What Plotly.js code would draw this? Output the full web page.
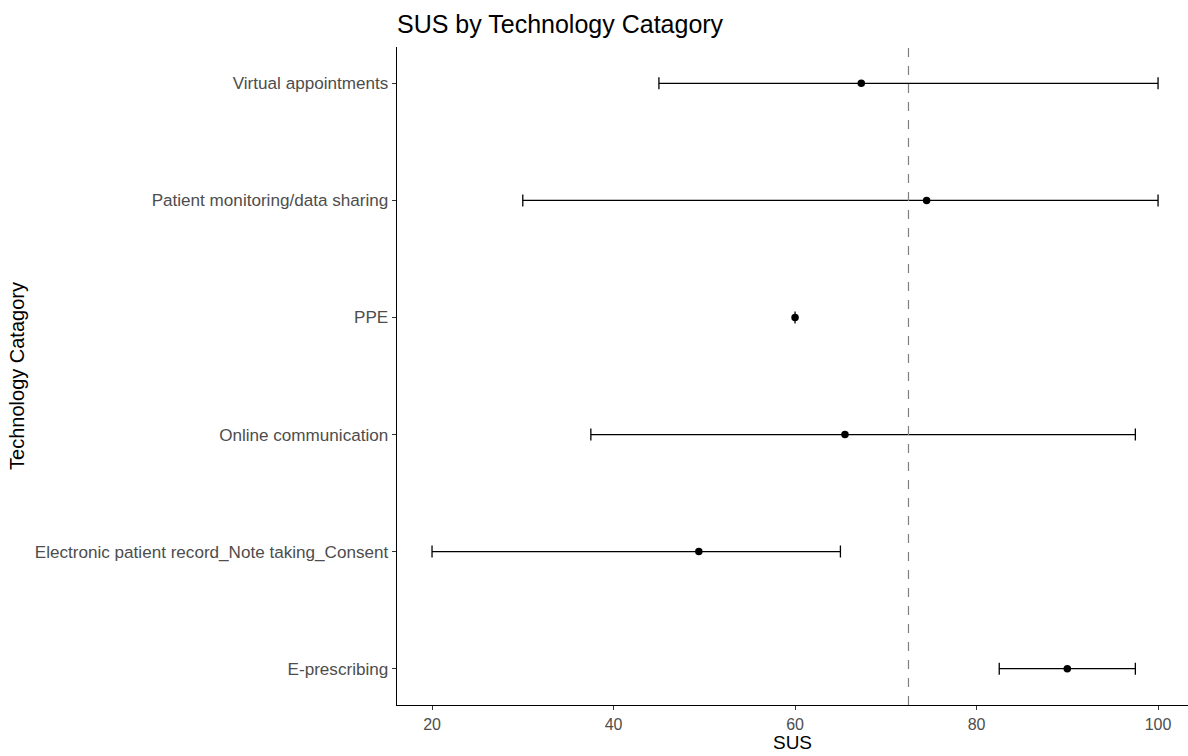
<!DOCTYPE html>
<html>
<head>
<meta charset="utf-8">
<script src="https://cdn.plot.ly/plotly-3.0.1.min.js"></script>
<style>html,body{margin:0;padding:0;background:#fff;}#chart{width:1188px;height:756px;}</style>
</head>
<body>
<div id="chart"></div>
<script>
const categories = ["E-prescribing", "Electronic patient record_Note taking_Consent", "Online communication", "PPE", "Patient monitoring/data sharing", "Virtual appointments"];
const meanSUS = [90, 49.4, 65.5, 60, 74.5, 67.3];
const lowerSUS = [82.5, 20, 37.5, 60, 30, 45];
const upperSUS = [97.5, 65, 97.5, 60, 100, 100];
const referenceSUS = 72.5;
const xTicks = [20, 40, 60, 80, 100];

const trace = {
  type: "scatter",
  mode: "markers",
  x: meanSUS,
  y: categories,
  marker: {color: "#000", size: 7.5},
  error_x: {
    type: "data",
    symmetric: false,
    array: upperSUS.map((u, i) => u - meanSUS[i]),
    arrayminus: meanSUS.map((m, i) => m - lowerSUS[i]),
    color: "#000",
    thickness: 1.3,
    width: 6
  },
  hoverinfo: "x+y",
  showlegend: false
};

const layout = {
  width: 1188,
  height: 756,
  margin: {l: 397, r: 0, t: 47, b: 51},
  paper_bgcolor: "#fff",
  plot_bgcolor: "#fff",
  font: {family: "Liberation Sans, Arial, sans-serif", color: "#000"},
  title: {
    text: "SUS by Technology Catagory",
    font: {size: 25, color: "#000"},
    x: 0, xanchor: "left", xref: "paper",
    y: 1 - 24 / 756, yref: "container", yanchor: "middle"
  },
  xaxis: {
    range: [16.14, 103.3],
    tickvals: xTicks,
    ticktext: xTicks.map(String),
    ticks: "outside", ticklen: 4, tickwidth: 1, tickcolor: "#333",
    tickfont: {size: 16, color: "#4D4D4D"},
    showgrid: false, zeroline: false,
    showline: true, linecolor: "#000", linewidth: 1.3,
    title: {text: "SUS", font: {size: 19, color: "#000"}, standoff: 2}
  },
  yaxis: {
    type: "category",
    categoryorder: "array",
    categoryarray: categories,
    range: [-0.31, 5.31],
    ticks: "outside", ticklen: 4, tickwidth: 1, tickcolor: "#333",
    tickfont: {size: 17.1, color: "#4D4D4D"},
    showgrid: false, zeroline: false,
    showline: true, linecolor: "#000", linewidth: 1.3,
    title: {text: "Technology Catagory", font: {size: 20, color: "#000"}, standoff: 4}
  },
  shapes: [{
    type: "line", xref: "x", yref: "paper",
    x0: referenceSUS, x1: referenceSUS, y0: 0, y1: 1,
    line: {color: "#7F7F7F", width: 1.2, dash: "dash"}
  }]
};

Plotly.newPlot("chart", [trace], layout, {displayModeBar: false, staticPlot: true});
</script>
</body>
</html>
